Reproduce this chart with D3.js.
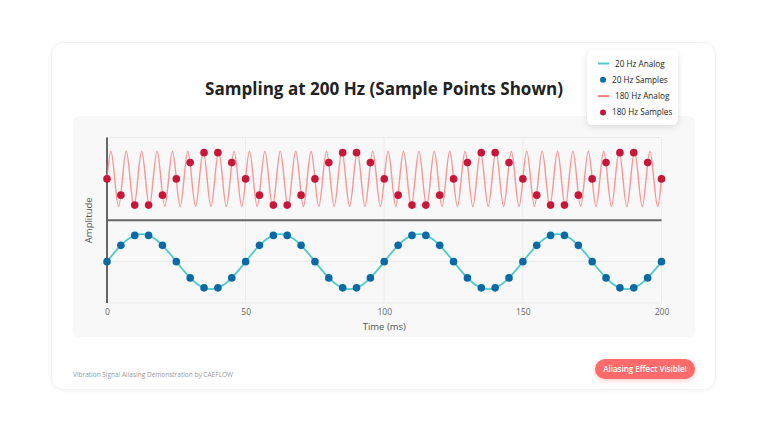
<!DOCTYPE html>
<html>
<head>
<meta charset="utf-8">
<script src="https://cdn.jsdelivr.net/npm/d3@7"></script>
<style>
  body { margin: 0; background: #fff; font-family: "Open Sans", sans-serif; }
  svg { display: block; }
</style>
</head>
<body>
<svg id="canvas"></svg>
<script>
// time axis (ms)
const timeTicks = [0, 50, 100, 150, 200];
const sampleTimes = [0,5,10,15,20,25,30,35,40,45,50,55,60,65,70,75,80,85,90,95,100,
  105,110,115,120,125,130,135,140,145,150,155,160,165,170,175,180,185,190,195,200];

const samples20 = [0,.59,.95,.95,.59,0,-.59,-.95,-.95,-.59,0,.59,.95,.95,.59,0,-.59,-.95,-.95,-.59,
  0,.59,.95,.95,.59,0,-.59,-.95,-.95,-.59,0,.59,.95,.95,.59,0,-.59,-.95,-.95,-.59,0];
const samples180 = [0,-.59,-.95,-.95,-.59,0,.59,.95,.95,.59,0,-.59,-.95,-.95,-.59,0,.59,.95,.95,.59,
  0,-.59,-.95,-.95,-.59,0,.59,.95,.95,.59,0,-.59,-.95,-.95,-.59,0,.59,.95,.95,.59,0];

// 20 Hz analog trace, every 2.5 ms
const analog20Step = 2.5;
const analog20 = [0,.31,.59,.81,.95,1,.95,.81,.59,.31,0,-.31,-.59,-.81,-.95,-1,-.95,-.81,-.59,-.31,
  0,.31,.59,.81,.95,1,.95,.81,.59,.31,0,-.31,-.59,-.81,-.95,-1,-.95,-.81,-.59,-.31,
  0,.31,.59,.81,.95,1,.95,.81,.59,.31,0,-.31,-.59,-.81,-.95,-1,-.95,-.81,-.59,-.31,
  0,.31,.59,.81,.95,1,.95,.81,.59,.31,0,-.31,-.59,-.81,-.95,-1,-.95,-.81,-.59,-.31,0];

// 180 Hz analog trace: peaks / zero crossings every quarter period (200/144 ms)
const analog180Step = 200 / 144;
const analog180 = [0,1,0,-1,0,1,0,-1,0,1,0,-1,0,1,0,-1,0,1,0,-1,0,1,0,-1,0,1,0,-1,0,1,0,-1,0,1,0,-1,
  0,1,0,-1,0,1,0,-1,0,1,0,-1,0,1,0,-1,0,1,0,-1,0,1,0,-1,0,1,0,-1,0,1,0,-1,0,1,0,-1,
  0,1,0,-1,0,1,0,-1,0,1,0,-1,0,1,0,-1,0,1,0,-1,0,1,0,-1,0,1,0,-1,0,1,0,-1,0,1,0,-1,
  0,1,0,-1,0,1,0,-1,0,1,0,-1,0,1,0,-1,0,1,0,-1,0,1,0,-1,0,1,0,-1,0,1,0,-1,0,1,0,-1,0];

const legendItems = [
  { label: "20 Hz Analog", type: "line", color: "#4ecdc4" },
  { label: "20 Hz Samples", type: "dot", color: "#0b6aa6" },
  { label: "180 Hz Analog", type: "line", color: "#ff7b7b" },
  { label: "180 Hz Samples", type: "dot", color: "#c8163a" }
];

const width = 768, height = 432;
const topOffset = 1.5, bottomOffset = -1.5;

const canvas = d3.select("#canvas").attr("width", width).attr("height", height);

const defs = canvas.append("defs");
const sh = defs.append("filter").attr("id", "shadow").attr("x", "-20%").attr("y", "-20%").attr("width", "140%").attr("height", "150%");
sh.append("feDropShadow").attr("dx", 0).attr("dy", 2).attr("stdDeviation", 3).attr("flood-color", "#000").attr("flood-opacity", 0.12);
const sh2 = defs.append("filter").attr("id", "cardShadow").attr("x", "-5%").attr("y", "-5%").attr("width", "110%").attr("height", "112%");
sh2.append("feDropShadow").attr("dx", 0).attr("dy", 1).attr("stdDeviation", 2).attr("flood-color", "#000").attr("flood-opacity", 0.05);
const sh3 = defs.append("filter").attr("id", "badgeShadow").attr("x", "-20%").attr("y", "-40%").attr("width", "140%").attr("height", "190%");
sh3.append("feDropShadow").attr("dx", 0).attr("dy", 2).attr("stdDeviation", 2.5).attr("flood-color", "#ff6b6b").attr("flood-opacity", 0.35);

// card
canvas.append("rect")
  .attr("x", 51.5).attr("y", 42.5).attr("width", 664).attr("height", 347)
  .attr("rx", 12).attr("fill", "#fff").attr("stroke", "#f1f1f1")
  .attr("filter", "url(#cardShadow)");

// plot panel
canvas.append("rect")
  .attr("x", 73).attr("y", 116).attr("width", 622).attr("height", 221)
  .attr("rx", 6).attr("fill", "#f8f8f8");

canvas.append("text")
  .attr("x", 384).attr("y", 95).attr("text-anchor", "middle")
  .attr("font-size", 18).attr("font-weight", 700).attr("fill", "#222")
  .attr("textLength", 358).attr("lengthAdjust", "spacingAndGlyphs")
  .text("Sampling at 200 Hz (Sample Points Shown)");

const xScale = d3.scaleLinear().domain([0, 200]).range([107, 661.5]);
const yScale = d3.scaleLinear().domain([-3, 3]).range([303, 137.5]);

// grid
const grid = canvas.append("g");
grid.selectAll("line.v").data(timeTicks.slice(1)).join("line")
  .attr("x1", d => xScale(d)).attr("x2", d => xScale(d))
  .attr("y1", yScale(3)).attr("y2", yScale(-3))
  .attr("stroke", "#ebebeb").attr("stroke-width", 1);
grid.selectAll("line.h").data([-3, -1.5, 1.5, 3]).join("line")
  .attr("x1", xScale(0)).attr("x2", xScale(200))
  .attr("y1", d => yScale(d)).attr("y2", d => yScale(d))
  .attr("stroke", "#ebebeb").attr("stroke-width", 1);

// x axis labels
const xAxis = d3.axisBottom(xScale).tickValues(timeTicks).tickSize(0).tickPadding(6);
const gx = canvas.append("g").attr("transform", `translate(0, ${yScale(-3)})`).call(xAxis);
gx.select(".domain").remove();
gx.selectAll("text").attr("font-family", "Open Sans, sans-serif").attr("font-size", 8.5).attr("fill", "#666");

canvas.append("text")
  .attr("x", xScale(100)).attr("y", 330).attr("text-anchor", "middle")
  .attr("font-size", 9.5).attr("fill", "#555").text("Time (ms)");

canvas.append("text")
  .attr("transform", `translate(92, ${yScale(0)}) rotate(-90)`)
  .attr("text-anchor", "middle")
  .attr("font-size", 9.5).attr("fill", "#555").text("Amplitude");

// axis lines
canvas.append("line")
  .attr("x1", xScale(0)).attr("x2", xScale(0)).attr("y1", yScale(3)).attr("y2", yScale(-3))
  .attr("stroke", "#666").attr("stroke-width", 2);
canvas.append("line")
  .attr("x1", xScale(0)).attr("x2", xScale(200)).attr("y1", yScale(0)).attr("y2", yScale(0))
  .attr("stroke", "#666").attr("stroke-width", 2);

// analog traces
const path180 = d3.line()
  .x((d, i) => xScale(i * analog180Step))
  .y(d => yScale(d + topOffset))
  .curve(d3.curveNatural);
canvas.append("path").datum(analog180)
  .attr("d", path180).attr("fill", "none")
  .attr("stroke", "#ff7b7b").attr("stroke-opacity", 0.8).attr("stroke-width", 1.4);

const path20 = d3.line()
  .x((d, i) => xScale(i * analog20Step))
  .y(d => yScale(d + bottomOffset))
  .curve(d3.curveNatural);
canvas.append("path").datum(analog20)
  .attr("d", path20).attr("fill", "none")
  .attr("stroke", "#4ecdc4").attr("stroke-width", 1.8);

// samples
canvas.append("g").selectAll("circle").data(samples180).join("circle")
  .attr("cx", (d, i) => xScale(sampleTimes[i]))
  .attr("cy", d => yScale(d + topOffset))
  .attr("r", 3.8).attr("fill", "#c8163a");

canvas.append("g").selectAll("circle").data(samples20).join("circle")
  .attr("cx", (d, i) => xScale(sampleTimes[i]))
  .attr("cy", d => yScale(d + bottomOffset))
  .attr("r", 3.8).attr("fill", "#0b6aa6");

// legend
const lg = canvas.append("g").attr("transform", "translate(587, 50)");
lg.append("rect").attr("width", 91).attr("height", 75).attr("rx", 6)
  .attr("fill", "#fff").attr("filter", "url(#shadow)");
const rows = lg.selectAll("g.item").data(legendItems).join("g")
  .attr("transform", (d, i) => `translate(0, ${13.5 + i * 16.3})`);
rows.filter(d => d.type === "line").append("line")
  .attr("x1", 11).attr("x2", 22).attr("y1", 0).attr("y2", 0)
  .attr("stroke", d => d.color).attr("stroke-width", 2);
rows.filter(d => d.type === "dot").append("circle")
  .attr("cx", 16).attr("cy", 0).attr("r", 3)
  .attr("fill", d => d.color);
rows.append("text").attr("x", d => d.type === "line" ? 28 : 25).attr("y", 3)
  .attr("font-size", 8.2).attr("fill", "#222").text(d => d.label);

// footer
canvas.append("text")
  .attr("x", 73).attr("y", 377)
  .attr("font-size", 6.5).attr("fill", "#999")
  .text("Vibration Signal Aliasing Demonstration by CAEFLOW");

const badge = canvas.append("g").attr("transform", "translate(595, 359)");
badge.append("rect").attr("width", 100).attr("height", 20).attr("rx", 10)
  .attr("fill", "#ff6b6b").attr("filter", "url(#badgeShadow)");
badge.append("text").attr("x", 50).attr("y", 13.2).attr("text-anchor", "middle")
  .attr("font-size", 8).attr("font-weight", 600).attr("fill", "#fff")
  .text("Aliasing Effect Visible!");
</script>
</body>
</html>
